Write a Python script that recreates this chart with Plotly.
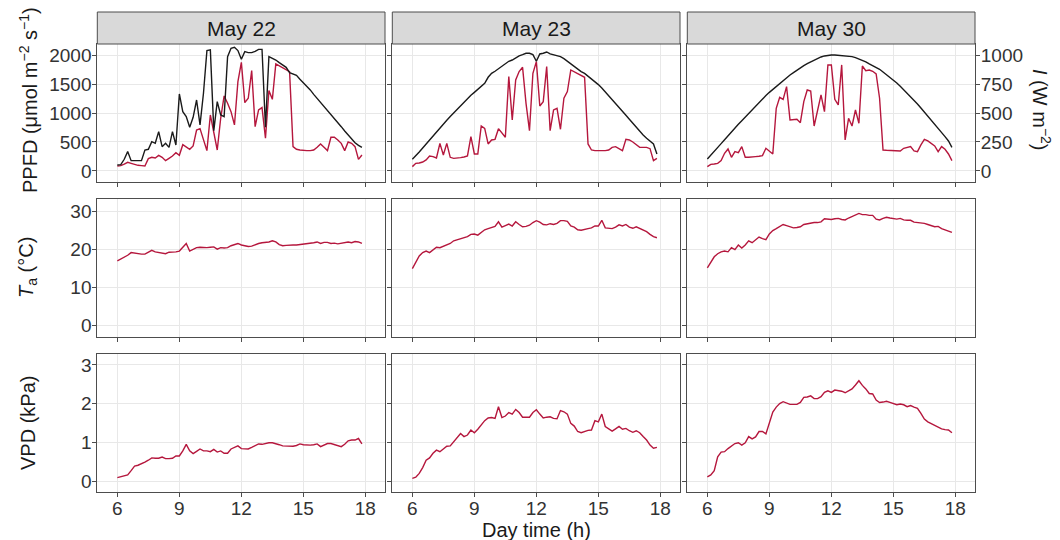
import plotly.graph_objects as go

# time of day, 10-min logging from 6:00 to 17:50
minutes = list(range(360, 1071, 10))
hours = [m / 60 for m in minutes]

days = ["May 22", "May 23", "May 30"]

ppfd_22 = [86, 92, 120, 150, 132, 109, 98, 92, 86, 213,
           236, 224, 270, 236, 178, 218, 259, 316, 270, 454,
           408, 374, 431, 707, 730, 535, 351, 966, 679, 362,
           909, 1294, 1167, 1024, 794, 1541, 1875, 1179, 1254, 1731,
           765, 1052, 1093, 564, 1386, 1236, 1846, 1811, 1777, 1754,
           1714, 420, 374, 362, 351, 351, 351, 362, 408, 466,
           408, 351, 581, 581, 535, 477, 351, 500, 477, 420,
           201, 276]
irr_22 = [52, 55, 101, 167, 89, 89, 89, 89, 181, 187,
          253, 239, 339, 210, 239, 204, 339, 224, 664, 512,
          469, 377, 463, 612, 397, 670, 1038, 1044, 348, 598,
          483, 469, 986, 1058, 1067, 1038, 963, 1029, 1021, 1021,
          1032, 1049, 1049, 377, 986, 972, 957, 934, 914, 894,
          848, 834, 825, 791, 762, 727, 699, 661, 627, 595,
          561, 526, 492, 454, 417, 382, 345, 311, 276, 244,
          221, 204]
ta_22 = [16.9, 17.4, 17.7, 18.4, 19.1, 18.9, 18.9, 18.7, 18.7, 19.3,
         19.7, 19.3, 19.1, 19.1, 18.8, 19.2, 19.2, 19.3, 19.5, 20.4,
         21.5, 19.5, 20.0, 20.4, 20.5, 20.4, 20.4, 20.5, 20.6, 20.0,
         20.4, 20.3, 20.4, 20.9, 21.2, 21.5, 21.1, 20.8, 20.7, 20.8,
         21.2, 21.5, 21.7, 21.8, 21.9, 22.2, 21.9, 21.2, 20.9, 21.0,
         21.1, 21.1, 21.1, 21.2, 21.3, 21.4, 21.5, 21.7, 21.9, 21.5,
         21.8, 21.8, 21.5, 21.6, 21.4, 21.6, 21.6, 21.9, 21.7, 22.0,
         21.9, 21.5]
vpd_22 = [0.09, 0.11, 0.14, 0.16, 0.27, 0.39, 0.41, 0.44, 0.49, 0.54,
          0.60, 0.59, 0.59, 0.62, 0.58, 0.58, 0.59, 0.65, 0.65, 0.78,
          0.95, 0.78, 0.71, 0.77, 0.83, 0.78, 0.78, 0.76, 0.82, 0.75,
          0.78, 0.72, 0.72, 0.83, 0.87, 0.91, 0.84, 0.83, 0.83, 0.87,
          0.91, 0.96, 0.95, 0.97, 0.99, 0.99, 0.97, 0.94, 0.91, 0.91,
          0.91, 0.90, 0.92, 0.96, 0.94, 0.93, 0.93, 0.94, 0.96, 0.89,
          0.94, 0.97, 0.97, 0.95, 0.91, 0.89, 0.95, 1.04, 1.06, 1.06,
          1.10, 0.96]

ppfd_23 = [75, 132, 138, 155, 190, 259, 247, 224, 477, 276,
           477, 236, 218, 218, 230, 242, 259, 592, 293, 293,
           776, 736, 466, 535, 546, 730, 661, 581, 1627, 880,
           1570, 1714, 1788, 1167, 696, 1685, 1886, 1121, 1196, 1800,
           696, 1052, 1081, 719, 1254, 1369, 1742, 1708, 1685, 1650,
           1616, 466, 362, 351, 351, 345, 351, 362, 408, 420,
           391, 351, 546, 535, 500, 454, 408, 408, 408, 385,
           178, 218]
irr_23 = [101, 129, 164, 198, 233, 270, 305, 339, 374, 405,
          437, 469, 500, 532, 564, 595, 624, 653, 678, 704,
          727, 756, 808, 842, 860, 883, 906, 929, 946, 957,
          975, 992, 1003, 1015, 1015, 1003, 946, 1009, 1015, 1026,
          1009, 1003, 998, 986, 969, 946, 923, 900, 877, 857,
          842, 819, 796, 773, 745, 716, 681, 653, 618, 584,
          549, 515, 480, 446, 411, 377, 342, 311, 282, 259,
          233, 147]
ta_23 = [14.9, 16.7, 18.2, 19.1, 19.5, 19.1, 19.9, 20.5, 20.4, 20.7,
         21.1, 21.5, 22.2, 22.5, 22.6, 23.0, 23.3, 23.9, 24.0, 23.7,
         24.5, 25.1, 25.4, 25.6, 26.0, 27.2, 25.8, 26.2, 26.6, 26.1,
         27.2, 26.5, 25.9, 26.0, 26.3, 27.0, 27.5, 27.1, 26.5, 26.4,
         26.7, 26.5, 26.8, 27.5, 27.5, 27.3, 26.1, 25.8, 25.1, 25.0,
         25.3, 25.4, 25.6, 26.1, 26.1, 27.6, 25.6, 25.4, 25.4, 25.8,
         26.4, 26.1, 26.5, 25.8, 25.5, 25.9, 25.5, 25.0, 24.6, 23.9,
         23.3, 23.0]
vpd_23 = [0.07, 0.10, 0.20, 0.35, 0.54, 0.60, 0.72, 0.80, 0.76, 0.84,
          0.90, 0.91, 1.01, 1.13, 1.23, 1.15, 1.19, 1.32, 1.25, 1.34,
          1.46, 1.56, 1.63, 1.64, 1.62, 1.92, 1.64, 1.68, 1.77, 1.73,
          1.85, 1.77, 1.65, 1.65, 1.65, 1.77, 1.84, 1.73, 1.63, 1.65,
          1.66, 1.62, 1.61, 1.82, 1.79, 1.73, 1.49, 1.42, 1.28, 1.25,
          1.29, 1.31, 1.32, 1.56, 1.53, 1.73, 1.41, 1.34, 1.29, 1.35,
          1.41, 1.34, 1.36, 1.30, 1.26, 1.30, 1.25, 1.15, 1.06, 0.93,
          0.85, 0.87]

ppfd_30 = [75, 115, 121, 132, 178, 305, 380, 236, 334, 316,
           420, 236, 236, 236, 247, 253, 265, 391, 334, 293,
           1081, 1271, 1236, 1455, 880, 886, 891, 834, 1196, 1397,
           1380, 776, 1041, 1311, 1024, 1829, 1829, 1236, 1139, 1829,
           535, 909, 776, 1052, 822, 1811, 1731, 1742, 1719, 1673,
           1254, 362, 357, 351, 345, 345, 345, 391, 408, 420,
           345, 334, 449, 546, 518, 477, 431, 334, 420, 374,
           293, 178]
irr_30 = [104, 135, 167, 201, 236, 270, 305, 336, 371, 403,
          434, 466, 497, 529, 561, 589, 621, 650, 678, 704,
          730, 756, 782, 805, 828, 848, 871, 891, 909, 926,
          940, 957, 972, 983, 992, 998, 1000, 1000, 998, 995,
          989, 989, 986, 978, 966, 955, 940, 923, 909, 894,
          877, 854, 831, 808, 785, 759, 730, 701, 673, 641,
          610, 578, 543, 509, 474, 437, 403, 368, 331, 296,
          259, 204]
ta_30 = [15.1, 16.5, 18.0, 18.8, 19.3, 19.5, 19.3, 20.4, 19.9, 21.1,
         20.3, 21.1, 22.2, 21.7, 22.4, 23.2, 22.8, 22.5, 24.0, 24.9,
         25.4, 25.9, 26.5, 26.2, 25.8, 25.6, 25.7, 25.9, 26.5, 26.7,
         26.8, 27.0, 27.0, 27.2, 28.0, 27.9, 27.8, 28.0, 28.1, 27.8,
         27.7, 28.2, 28.6, 28.9, 29.4, 29.1, 29.1, 28.9, 28.9, 27.9,
         27.7, 28.1, 28.4, 28.2, 28.0, 27.9, 28.1, 27.7, 27.6, 27.6,
         27.1, 27.0, 27.0, 26.8, 26.5, 26.1, 25.9, 26.0, 25.4, 25.1,
         24.8, 24.4]
vpd_30 = [0.11, 0.16, 0.27, 0.63, 0.75, 0.76, 0.84, 0.91, 0.97, 0.99,
          0.93, 0.99, 1.15, 1.09, 1.14, 1.28, 1.28, 1.22, 1.53, 1.78,
          1.91, 2.00, 2.05, 2.01, 1.98, 1.98, 1.98, 2.03, 2.16, 2.17,
          2.20, 2.13, 2.13, 2.18, 2.29, 2.33, 2.29, 2.35, 2.34, 2.32,
          2.28, 2.32, 2.38, 2.48, 2.59, 2.47, 2.38, 2.26, 2.25, 2.09,
          2.03, 2.04, 2.06, 2.03, 2.00, 1.97, 1.99, 1.97, 1.92, 1.95,
          1.91, 1.88, 1.75, 1.60, 1.53, 1.48, 1.44, 1.40, 1.35, 1.33,
          1.32, 1.25]

ppfd = [ppfd_22, ppfd_23, ppfd_30]
irr = [irr_22, irr_23, irr_30]
ta = [ta_22, ta_23, ta_30]
vpd = [vpd_22, vpd_23, vpd_30]

RED = "#B5173D"
BLACK = "#1A1A1A"
BORDER = "#4D4D4D"
GRID = "#E8E8E8"
FONT = "Liberation Sans, Arial, sans-serif"
W, H = 1060, 540
OFF = 8  # the page body adds an 8 px margin on the top and left


def px_x(p):
    return (p - OFF) / W


def px_y(p):
    return 1 - (p - OFF) / H


# panel positions in window pixels
col_px = [(97.3, 385), (392.3, 680), (687.3, 975)]
row_px = [(44, 182), (199, 337), (354, 492)]
y_ranges = [[-190, 2190], [-3.1, 33.2], [-0.28, 3.28]]
y_ticks = [[0, 500, 1000, 1500, 2000], [0, 10, 20, 30], [0, 1, 2, 3]]

fig = go.Figure()

row_data = [ppfd, ta, vpd]
for r in range(3):
    for c in range(3):
        k = r * 3 + c + 1
        fig.add_trace(go.Scatter(x=hours, y=row_data[r][c], mode="lines",
                                 line=dict(color=RED, width=1.4),
                                 xaxis="x" if k == 1 else f"x{k}",
                                 yaxis="y" if k == 1 else f"y{k}",
                                 showlegend=False))
        if r == 0:
            fig.add_trace(go.Scatter(x=hours, y=irr[c], mode="lines",
                                     line=dict(color=BLACK, width=1.4),
                                     xaxis="x" if k == 1 else f"x{k}",
                                     yaxis=f"y{10 + c}",
                                     showlegend=False))

tick_font = dict(size=19, color="#333333")
layout = dict(width=W, height=H, margin=dict(l=0, r=0, t=0, b=0),
              plot_bgcolor="white", paper_bgcolor="white",
              font=dict(family=FONT, size=19, color="#333333"),
              showlegend=False)

for r in range(3):
    for c in range(3):
        k = r * 3 + c + 1
        sx = "" if k == 1 else str(k)
        x0, x1 = col_px[c]
        y0, y1 = row_px[r]
        layout["xaxis" + sx] = dict(
            domain=[px_x(x0), px_x(x1)], anchor="y" + sx, range=[5.03, 18.95],
            tickvals=[6, 9, 12, 15, 18], showticklabels=(r == 2),
            ticks="outside", ticklen=4, tickcolor=BORDER,
            ticklabelstandoff=-5,
            showgrid=True, gridcolor=GRID, gridwidth=1, zeroline=False,
            showline=True, linecolor=BORDER, linewidth=1, mirror=True,
            tickfont=tick_font)
        layout["yaxis" + sx] = dict(
            domain=[px_y(y1), px_y(y0)], anchor="x" + sx,
            range=y_ranges[r], tickvals=y_ticks[r], showticklabels=(c == 0),
            ticks="outside", ticklen=4, tickcolor=BORDER,
            ticklabelstandoff=-3,
            showgrid=True, gridcolor=GRID, gridwidth=1, zeroline=False,
            showline=True, linecolor=BORDER, linewidth=1, mirror=True,
            tickfont=tick_font)
    if r == 0:
        for c in range(3):
            sx = "" if c == 0 else str(c + 1)
            layout[f"yaxis{10 + c}"] = dict(
                overlaying="y" + sx, anchor="x" + sx, side="right",
                range=[y_ranges[0][0] / 2, y_ranges[0][1] / 2],
                tickvals=[0, 250, 500, 750, 1000], showticklabels=(c == 2),
                ticks="outside" if c == 2 else "", ticklen=4, tickcolor=BORDER,
                ticklabelstandoff=-3,
                showgrid=False, zeroline=False, showline=False,
                tickfont=tick_font)

shapes = []
annotations = []
for c, day in enumerate(days):
    x0, x1 = col_px[c]
    shapes.append(dict(type="rect", xref="paper", yref="paper",
                       x0=px_x(x0), x1=px_x(x1), y0=px_y(44), y1=px_y(12),
                       fillcolor="#D9D9D9", line=dict(color=BORDER, width=1)))
    annotations.append(dict(text=day, xref="paper", yref="paper",
                            x=px_x((x0 + x1) / 2), y=px_y(28.5),
                            showarrow=False, xanchor="center", yanchor="middle",
                            font=dict(size=21, color="#1A1A1A")))

title_font = dict(size=20, color="#1A1A1A")
annotations += [
    dict(text="PPFD (μmol m<sup>−2</sup> s<sup>−1</sup>)", xref="paper", yref="paper",
         x=px_x(28), y=px_y(100), textangle=-90, showarrow=False,
         xanchor="center", yanchor="middle", font=title_font),
    dict(text="<i>T</i><sub>a</sub> (°C)", xref="paper", yref="paper",
         x=px_x(28), y=px_y(268), textangle=-90, showarrow=False,
         xanchor="center", yanchor="middle", font=title_font),
    dict(text="VPD (kPa)", xref="paper", yref="paper",
         x=px_x(28), y=px_y(423), textangle=-90, showarrow=False,
         xanchor="center", yanchor="middle", font=title_font),
    dict(text="<i>I</i> (W m<sup>−2</sup>)", xref="paper", yref="paper",
         x=px_x(1042), y=px_y(110), textangle=90, showarrow=False,
         xanchor="center", yanchor="middle", font=title_font),
    dict(text="Day time (h)", xref="paper", yref="paper",
         x=px_x(536), y=px_y(530), showarrow=False,
         xanchor="center", yanchor="middle", font=title_font),
]

layout["shapes"] = shapes
layout["annotations"] = annotations
fig.update_layout(**layout)

fig.write_html("out.html")
